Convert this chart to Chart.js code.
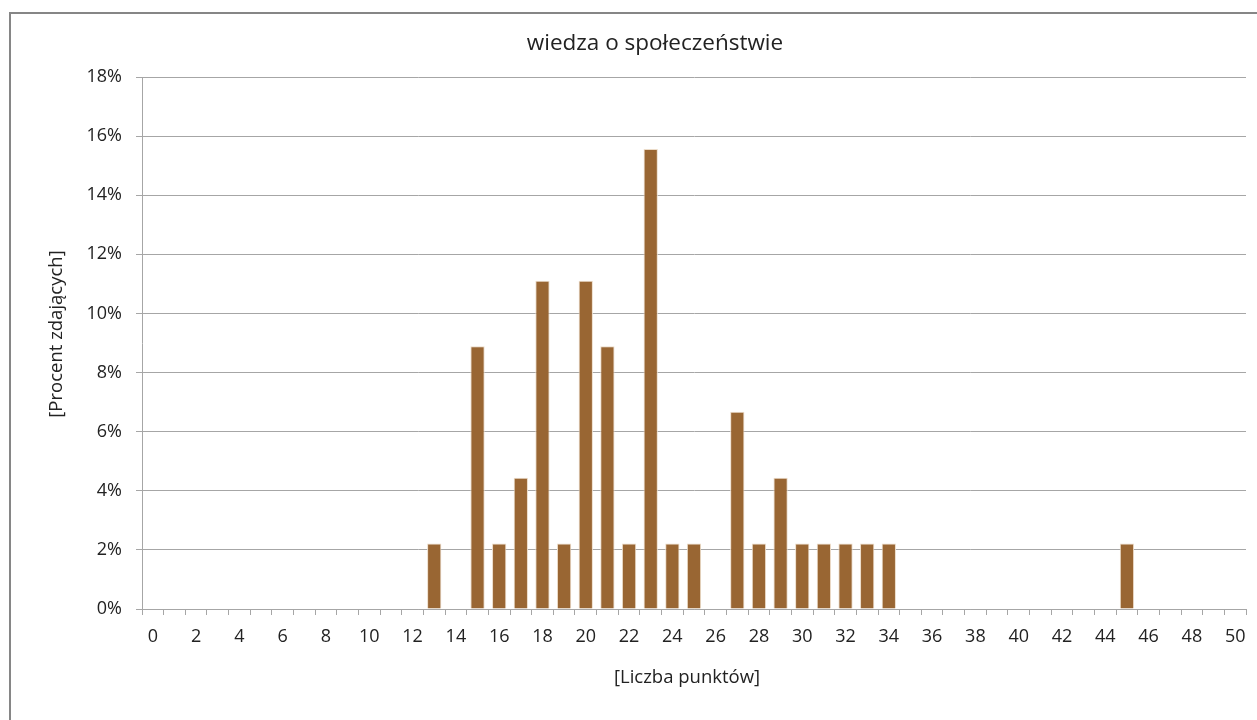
<!DOCTYPE html>
<html>
<head>
<meta charset="utf-8">
<script src="https://cdn.jsdelivr.net/npm/chart.js@4.4.1/dist/chart.umd.min.js"></script>
<style>
  html, body { margin: 0; padding: 0; background: #fff; }
  #wrap { position: relative; width: 1257px; height: 720px; overflow: hidden; }
  #frame { position: absolute; left: 9px; top: 12px; width: 1400px; height: 800px;
           border-left: 2px solid #868686; border-top: 2px solid #868686; }
  canvas { position: absolute; left: 0; top: 0; }
</style>
</head>
<body>
<div id="wrap">
  <div id="frame"></div>
  <canvas id="chart" width="1257" height="720"></canvas>
</div>
<script>
/* wiedza o społeczeństwie — rozkład wyników */

const points = [];
for (let i = 0; i <= 50; i++) points.push(String(i));

// procent zdających dla każdej liczby punktów (0..50)
const percents = [
    0, 0, 0, 0, 0, 0, 0, 0, 0, 0,          // 0-9
    0, 0, 0, 2.22, 0, 8.89, 2.22, 4.44, 11.11, 2.22,   // 10-19
    11.11, 8.89, 2.22, 15.56, 2.22, 2.22, 0, 6.67, 2.22, 4.44, // 20-29
    2.22, 2.22, 2.22, 2.22, 2.22, 0, 0, 0, 0, 0,       // 30-39
    0, 0, 0, 0, 0, 2.22, 0, 0, 0, 0,       // 40-49
    0                                      // 50
];

const chartTitle = 'wiedza o społeczeństwie';
const xTitle = '[Liczba punktów]';
const yTitle = '[Procent zdających]';

const FONT = '"Open Sans", Lato, sans-serif';
const AXIS = '#a6a6a6';
const TEXT = '#222222';

// tytuły rozmieszczone względem ramki (jak w Excelu)
const titlePlugin = {
    id: 'frameTitles',
    afterDraw(chart) {
        const ctx = chart.ctx;
        ctx.save();
        ctx.fillStyle = TEXT;
        ctx.textAlign = 'center';
        ctx.textBaseline = 'middle';
        ctx.font = '22.5px ' + FONT;
        ctx.fillText(chartTitle, 655, 44);
        ctx.font = '18.5px ' + FONT;
        ctx.fillText(xTitle, 687, 678);
        ctx.translate(57, 334);
        ctx.rotate(-Math.PI / 2);
        ctx.fillText(yTitle, 0, 0);
        ctx.restore();
    }
};

new Chart(document.getElementById('chart').getContext('2d'), {
    type: 'bar',
    data: {
        labels: points,
        datasets: [{
            label: 'Procent',
            data: percents,
            backgroundColor: '#996633',
            borderColor: '#ecdcc9',
            borderWidth: 1,
            categoryPercentage: 1,
            barPercentage: 0.66,
        }]
    },
    options: {
        responsive: false,
        animation: false,
        layout: { padding: { left: 0, right: 11, top: 77, bottom: 0 } },
        scales: {
            x: {
                offset: true,
                grid: { offset: true, drawOnChartArea: false, drawTicks: true, tickLength: 6, color: AXIS },
                border: { color: AXIS },
                ticks: {
                    autoSkip: false, maxRotation: 0, padding: 11,
                    color: TEXT, font: { family: FONT, size: 18 },
                    callback: (v, i) => (i % 2 === 0 ? points[i] : '')
                },
                afterFit: s => { s.height = 111; }
            },
            y: {
                min: 0, max: 18,
                grid: { color: AXIS, tickLength: 6 },
                border: { color: AXIS },
                ticks: {
                    stepSize: 2, padding: 14,
                    color: TEXT, font: { family: FONT, size: 18 },
                    callback: v => v + '%'
                },
                afterFit: s => { s.width = 142; }
            }
        },
        plugins: {
            legend: { display: false },
            tooltip: { enabled: false },
            title: { display: false }
        }
    },
    plugins: [titlePlugin]
});
</script>
</body>
</html>
